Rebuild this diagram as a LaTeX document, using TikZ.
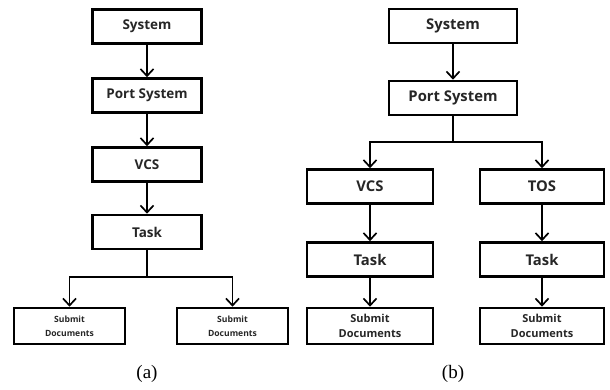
\documentclass[tikz,border=0pt]{standalone}
\usepackage{fontspec}
\setmainfont{Liberation Serif}
\newfontfamily\boxfont{Open Sans}[BoldFont={* Bold}]
\usetikzlibrary{arrows.meta}
\tikzset{
  box/.style={draw, line width=2.6pt, rectangle, inner sep=0pt,
    font=\boxfont\bfseries\fontsize{13.5}{15}\selectfont, text=black!85},
  bigbox/.style={box, minimum width=#1, minimum height=34pt},
  docbox/.style={box, minimum width=#1, minimum height=36pt, align=center,
    font=\boxfont\bfseries\fontsize{8.6}{14}\selectfont},
  bigtext/.style={font=\boxfont\bfseries\fontsize{14.8}{16}\selectfont},
  doctext/.style={font=\boxfont\bfseries\fontsize{11}{15}\selectfont},
  link/.style={line width=1.7pt, -{Straight Barb[length=7pt,width=13pt,line width=1.7pt]}},
  plain/.style={line width=1.7pt},
  caption/.style={font=\fontsize{19}{21}\selectfont}
}
\begin{document}
\begin{tikzpicture}[x=1pt,y=-1pt]
\useasboundingbox (0,0) rectangle (610,389);

% (a) one chain of processes
\node[bigbox=109pt] (sysA) at (147,26.5) {System};
\node[bigbox=109pt] (portA) at (147,95.5) {Port System};
\node[bigbox=109pt] (vcsA) at (147,164.5) {VCS};
\node[bigbox=109pt] (taskA) at (147,232) {Task};
\node[docbox=111pt] (docA1) at (69.5,326) {Submit\\Documents};
\node[docbox=111pt] (docA2) at (232.5,326) {Submit\\Documents};
\coordinate (splitA) at (147,277);

\draw[link] (sysA) -- (portA);
\draw[link] (portA) -- (vcsA);
\draw[link] (vcsA) -- (taskA);
\draw[plain] (taskA) -- (splitA);
\draw[link] (splitA) -| (docA1.north);
\draw[link] (splitA) -| (docA2.north);

\node[caption] (capA) at (147,374) {(a)};

% (b) two parallel chains
\node[bigbox=128pt, bigtext] (sysB) at (453,26) {System};
\node[bigbox=128pt, bigtext] (portB) at (453,98) {Port System};
\node[bigbox=126pt, bigtext] (vcsB) at (370,186.5) {VCS};
\node[bigbox=124pt, bigtext] (tosB) at (542,186.5) {TOS};
\node[bigbox=126pt, bigtext] (taskB1) at (370,259.5) {Task};
\node[bigbox=124pt, bigtext] (taskB2) at (542,259.5) {Task};
\node[docbox=126pt, doctext] (docB1) at (370,326) {Submit\\Documents};
\node[docbox=124pt, doctext] (docB2) at (542,326) {Submit\\Documents};
\coordinate (splitB) at (453,142);

\draw[link] (sysB) -- (portB);
\draw[plain] (portB) -- (splitB);
\draw[link] (splitB) -| (vcsB.north);
\draw[link] (splitB) -| (tosB.north);
\draw[link] (vcsB) -- (taskB1);
\draw[link] (tosB) -- (taskB2);
\draw[link] (taskB1) -- (docB1);
\draw[link] (taskB2) -- (docB2);

\node[caption] (capB) at (453,374) {(b)};
\end{tikzpicture}
\end{document}
